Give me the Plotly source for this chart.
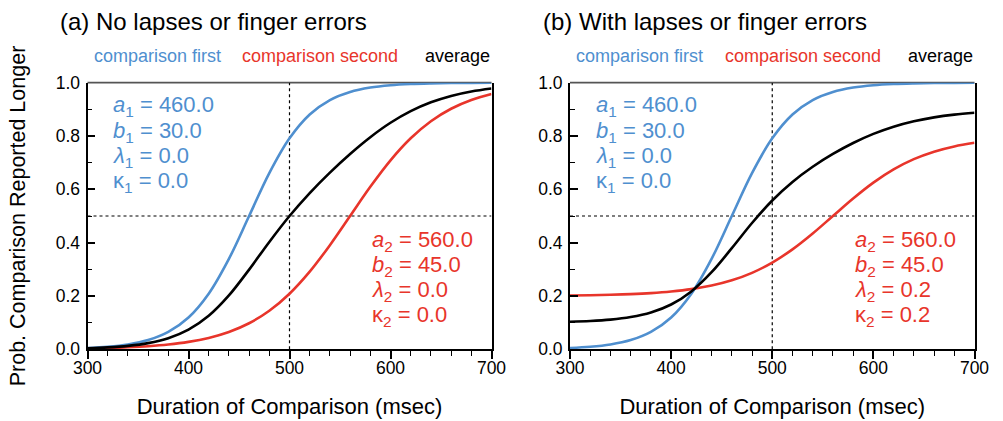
import plotly.graph_objects as go

# ---- data ----
durations = [300, 320, 340, 360, 380, 400, 420, 440, 460, 480, 500,
             520, 540, 560, 580, 600, 620, 640, 660, 680, 700]

a_first = [0.0048, 0.0093, 0.0180, 0.0345, 0.0650, 0.1192, 0.2086, 0.3392, 0.5000, 0.6608, 0.7914,
           0.8808, 0.9350, 0.9655, 0.9820, 0.9907, 0.9952, 0.9975, 0.9987, 0.9993, 0.9997]
a_second = [0.0031, 0.0048, 0.0075, 0.0116, 0.0180, 0.0278, 0.0427, 0.0650, 0.0978, 0.1446, 0.2086,
            0.2913, 0.3907, 0.5000, 0.6093, 0.7087, 0.7914, 0.8554, 0.9022, 0.9350, 0.9573]
a_average = [0.0040, 0.0071, 0.0128, 0.0231, 0.0415, 0.0735, 0.1257, 0.2021, 0.2989, 0.4027, 0.5000,
             0.5861, 0.6629, 0.7328, 0.7957, 0.8497, 0.8933, 0.9265, 0.9505, 0.9672, 0.9785]

b_first = [0.0048, 0.0093, 0.0180, 0.0345, 0.0650, 0.1192, 0.2086, 0.3392, 0.5000, 0.6608, 0.7914,
           0.8808, 0.9350, 0.9655, 0.9820, 0.9907, 0.9952, 0.9975, 0.9987, 0.9993, 0.9997]
b_second = [0.2019, 0.2029, 0.2045, 0.2070, 0.2108, 0.2167, 0.2256, 0.2390, 0.2587, 0.2868, 0.3252,
            0.3748, 0.4344, 0.5000, 0.5656, 0.6252, 0.6748, 0.7132, 0.7413, 0.7610, 0.7744]
b_average = [0.1034, 0.1061, 0.1113, 0.1208, 0.1379, 0.1680, 0.2171, 0.2891, 0.3794, 0.4738, 0.5583,
             0.6278, 0.6847, 0.7328, 0.7738, 0.8080, 0.8350, 0.8554, 0.8700, 0.8802, 0.8871]

panel_titles = ["(a) No lapses or finger errors", "(b) With lapses or finger errors"]
series_names = ["comparison first", "comparison second", "average"]
param_labels_first = ["<i>a</i><sub>1</sub>", "<i>b</i><sub>1</sub>", "<i>λ</i><sub>1</sub>", "κ<sub>1</sub>"]
param_labels_second = ["<i>a</i><sub>2</sub>", "<i>b</i><sub>2</sub>", "<i>λ</i><sub>2</sub>", "κ<sub>2</sub>"]
params_first = [["460.0", "30.0", "0.0", "0.0"], ["460.0", "30.0", "0.0", "0.0"]]
params_second = [["560.0", "45.0", "0.0", "0.0"], ["560.0", "45.0", "0.2", "0.2"]]
x_ticks = [300, 400, 500, 600, 700]
y_ticks = [0.0, 0.2, 0.4, 0.6, 0.8, 1.0]
ref_x = 500
ref_y = 0.5

BLUE = "#4f8fcf"
RED = "#e8352b"
BLACK = "#000000"
FONT = "Liberation Sans, Arial, Helvetica, sans-serif"

W, H = 1003, 421
x_dom = [[87.5 / W, 491.5 / W], [570.0 / W, 974.5 / W]]
y_dom = [(H - 349.3) / H, (H - 82.7) / H]

fig = go.Figure()

panels = [(a_first, a_second, a_average), (b_first, b_second, b_average)]
for i, (f, s, avg) in enumerate(panels):
    xa = "x" if i == 0 else "x2"
    ya = "y" if i == 0 else "y2"
    for ys, col in [(f, BLUE), (s, RED), (avg, BLACK)]:
        fig.add_trace(go.Scatter(x=durations, y=ys, mode="lines",
                                 line=dict(color=col, width=2.6, shape="spline", smoothing=1.0),
                                 xaxis=xa, yaxis=ya, showlegend=False, hoverinfo="skip",
                                 cliponaxis=False))

tickfont = dict(family=FONT, size=17.5, color="black")

layout = dict(
    width=W, height=H, margin=dict(l=0, r=0, t=0, b=0, autoexpand=False),
    paper_bgcolor="white", plot_bgcolor="white",
    font=dict(family=FONT, color="black"),
)
for i in range(2):
    sx = "" if i == 0 else "2"
    layout["xaxis" + sx] = dict(
        domain=x_dom[i], range=[300, 700], tickvals=x_ticks,
        ticktext=[str(v) for v in x_ticks], automargin=False,
        showgrid=False, zeroline=False, showline=True, linecolor="black", linewidth=1.8,
        ticks="outside", tickcolor="black", tickwidth=1.8, ticklen=8, tickfont=tickfont,
        minor=dict(ticks="outside", ticklen=5, tickwidth=1.4, tickcolor="black",
                   showgrid=False, dtick=20, tick0=300),
        anchor="y" + sx, mirror=False, ticklabelstandoff=-6,
        title=dict(text="Duration of Comparison (msec)", font=dict(family=FONT, size=22), standoff=21),
    )
    layout["yaxis" + sx] = dict(
        domain=y_dom, range=[0, 1], tickvals=y_ticks,
        ticktext=["%.1f" % v for v in y_ticks], automargin=False,
        showgrid=False, zeroline=False, showline=True, linecolor="black", linewidth=1.8,
        ticks="inside", tickcolor="black", tickwidth=1.8, ticklen=8, tickfont=tickfont,
        minor=dict(ticks="inside", ticklen=5, tickwidth=1.4, tickcolor="black",
                   showgrid=False, dtick=0.1, tick0=0),
        anchor="x" + sx, mirror=True, ticklabelstandoff=2,
        title=dict(text="Prob. Comparison Reported Longer" if i == 0 else "",
                   font=dict(family=FONT, size=21.5), standoff=24),
    )
fig.update_layout(**layout)

shapes = []
annotations = []
for i in range(2):
    sx = "" if i == 0 else "2"
    shapes.append(dict(type="line", xref="x" + sx + " domain", yref="y" + sx + " domain",
                       x0=0, x1=1, y0=1, y1=1, line=dict(color="#555555", width=1.8), layer="below"))
    shapes.append(dict(type="line", xref="x" + sx, yref="y" + sx, x0=ref_x, x1=ref_x, y0=0, y1=1,
                       line=dict(color="black", width=1.2, dash="dot"), layer="below"))
    shapes.append(dict(type="line", xref="x" + sx, yref="y" + sx, x0=300, x1=700, y0=ref_y, y1=ref_y,
                       line=dict(color="black", width=1.2, dash="dot"), layer="below"))

    off = 0 if i == 0 else 482.5
    annotations.append(dict(text=panel_titles[i], xref="paper", yref="paper",
                            x=(58 + off) / W, y=(H - 22) / H, xanchor="left", yanchor="middle",
                            showarrow=False, font=dict(family=FONT, size=24, color="black")))
    leg_x = [91.5, 240, 423] if i == 0 else [574, 722.5, 906]
    for name, col, lx in zip(series_names, [BLUE, RED, BLACK], leg_x):
        annotations.append(dict(text=name, xref="paper", yref="paper", x=lx / W, y=(H - 56) / H,
                                xanchor="left", yanchor="middle", showarrow=False,
                                font=dict(family=FONT, size=18, color=col)))
    for k in range(4):
        annotations.append(dict(text="%s = %s" % (param_labels_first[k], params_first[i][k]),
                                xref="paper", yref="paper", x=(111 + off) / W,
                                y=(H - (106.5 + 25.3 * k)) / H, xanchor="left", yanchor="middle",
                                showarrow=False, font=dict(family=FONT, size=22, color=BLUE)))
        annotations.append(dict(text="%s = %s" % (param_labels_second[k], params_second[i][k]),
                                xref="paper", yref="paper", x=(370 + off) / W,
                                y=(H - (240.5 + 25.3 * k)) / H, xanchor="left", yanchor="middle",
                                showarrow=False, font=dict(family=FONT, size=22, color=RED)))

fig.update_layout(shapes=shapes, annotations=annotations)
fig.write_html("out.html")
